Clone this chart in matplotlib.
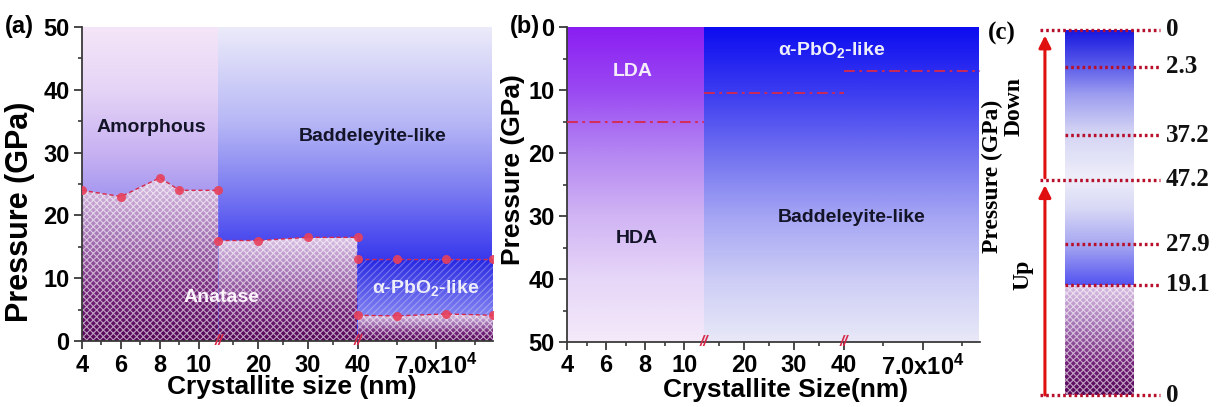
import numpy as np
import matplotlib
matplotlib.use("Agg")
import matplotlib.pyplot as plt
from matplotlib.colors import LinearSegmentedColormap
from matplotlib.patches import Polygon
from matplotlib.ticker import FixedLocator, FixedFormatter

plt.rcParams['font.family'] = ['Liberation Sans', 'DejaVu Sans']
plt.rcParams['font.weight'] = 'bold'
plt.rcParams['mathtext.fontset'] = 'custom'
plt.rcParams['mathtext.rm'] = 'Liberation Sans:bold'
plt.rcParams['mathtext.it'] = 'Liberation Sans:bold'
plt.rcParams['mathtext.bf'] = 'Liberation Sans:bold'
plt.rcParams['mathtext.default'] = 'rm'
plt.rcParams['hatch.linewidth'] = 0.8

# ---- data ----
# broken x axis: 4-11 nm | 12-40 nm | bulk (x10^4 nm)
seg_lims = [(4, 11), (12, 40), (5e4, 8.45e4)]
x_major = [4, 6, 8, 10, 20, 30, 40, 7e4]
x_major_lbl = ['4', '6', '8', '10', '20', '30', '40', '7.0x10$^4$']
x_minor = [5, 7, 9, 15, 25, 35, 6e4, 8e4]

# panel (a): transition points
a1_size = [4, 6, 8, 9, 11]
a1_p = [24, 23, 26, 24, 24]
a2_size = [12, 20, 30, 40]
a2_p = [16, 16, 16.5, 16.5]
a3_size = [5e4, 6e4, 7.25e4, 8.45e4]
a3_hi = [13, 13, 13, 13]
a3_lo = [4.1, 4.0, 4.3, 4.1]

# panel (b): decompression transitions per segment
b_p = [15, 10.5, 7]

# panel (c): pressure levels (labels) and their place on the schematic bar
c_labels = ['0', '2.3', '37.2', '47.2', '27.9', '19.1', '0']
c_pos = [1.0, 0.899, 0.712, 0.590, 0.413, 0.302, 0.0]
c_long = [True, False, False, True, False, False, True]

RED = '#d8284a'
DOT = '#e8405a'

# piecewise scale for the broken axis
X_BRK = [4, 11, 12, 40, 5e4, 8.45e4]
U_BRK = [0, 0.3318, 0.3320, 0.6705, 0.6707, 1.0]


def fwd(x):
    return np.interp(x, X_BRK, U_BRK)


def inv(u):
    return np.interp(u, U_BRK, X_BRK)


def vgrad(ax, x0, x1, y0, y1, stops, clip=None, z=0):
    g = np.linspace(0, 1, 256).reshape(-1, 1)
    cmap = LinearSegmentedColormap.from_list('g', stops)
    im = ax.imshow(g, extent=[x0, x1, y0, y1], origin='lower', aspect='auto',
                   cmap=cmap, vmin=0, vmax=1, interpolation='bilinear', zorder=z)
    if clip is not None:
        im.set_clip_path(clip)
    return im


def region(ax, xs, lo, hi, stops, hatch, hcolor):
    lo = np.broadcast_to(lo, len(xs))
    hi = np.broadcast_to(hi, len(xs))
    verts = list(zip(xs, hi)) + list(zip(xs[::-1], lo[::-1]))
    patch = Polygon(verts, closed=True, transform=ax.transData)
    vgrad(ax, xs[0], xs[-1], min(lo), max(hi), stops, clip=patch, z=1)
    ax.fill_between(xs, lo, hi, facecolor='none', edgecolor=hcolor,
                    linewidth=0, hatch=hatch, zorder=2)


def style_x(ax, ybreak):
    ax.set_xscale('function', functions=(fwd, inv))
    ax.set_xlim(4, 8.45e4)
    ax.xaxis.set_major_locator(FixedLocator(x_major))
    ax.xaxis.set_major_formatter(FixedFormatter(x_major_lbl))
    ax.xaxis.set_minor_locator(FixedLocator(x_minor))
    ax.xaxis.set_minor_formatter(FixedFormatter([''] * len(x_minor)))
    ax.yaxis.set_major_locator(FixedLocator([0, 10, 20, 30, 40, 50]))
    ax.yaxis.set_minor_locator(FixedLocator([5, 15, 25, 35, 45]))
    for s in ['top', 'right']:
        ax.spines[s].set_visible(False)
    for s in ['left', 'bottom']:
        ax.spines[s].set_color('#3a3a3a')
        ax.spines[s].set_linewidth(1.3)
    ax.tick_params(which='major', direction='out', length=6, width=1.3,
                   color='#3a3a3a', labelsize=17, pad=3)
    ax.tick_params(which='minor', direction='out', length=3, width=1.2,
                   color='#3a3a3a')
    for xb in [11.5, 40]:
        ax.text(xb, ybreak, '//', color=RED, fontsize=11, ha='center',
                va='center', style='italic', zorder=6, clip_on=False)


fig = plt.figure(figsize=(12.19, 4.07), dpi=100)
purple_lo = [(0, '#560658'), (0.3, '#74247a'), (0.65, '#a878b8'), (1, '#dcc4e6')]
CHK = 'xxxxx'
CHK_C = (1, 1, 1, 0.6)

# ================= panel (a) =================
ax = fig.add_axes([82 / 1219, 66 / 407, 411 / 1219, 314 / 407])
vgrad(ax, 4, 11.5, 0, 50, [(0, '#a898ee'), (0.48, '#a99bf0'), (0.6, '#c8b2f2'),
                            (0.8, '#e6d4f6'), (1, '#f4e6f8')])
vgrad(ax, 11.5, 8.45e4, 0, 50, [(0, '#3030e8'), (0.26, '#3a3aec'), (0.34, '#5050f0'),
                                 (0.5, '#8282f2'), (0.7, '#b8b8f6'), (1, '#ecebfa')])

for xs, ys in [(a1_size, a1_p), (a2_size, a2_p), (a3_size, a3_lo)]:
    xs = np.array(xs, dtype=float)
    ys = np.array(ys, dtype=float)
    region(ax, xs, 0.0, ys, purple_lo, CHK, CHK_C)
    ax.plot(xs, ys, color=RED, lw=1.0, ls=(0, (3, 2)), zorder=4)
    ax.plot(xs, ys, 'o', color=DOT, ms=6.5, mec='none', alpha=0.9, zorder=5)

region(ax, np.array(a3_size, dtype=float), np.array(a3_lo, dtype=float),
       np.array(a3_hi, dtype=float), [(0, '#8484f2'), (1, '#2626e2')],
       '/////', (1, 1, 1, 0.3))
ax.plot(a3_size, a3_hi, color=RED, lw=1.0, ls=(0, (3, 2)), zorder=4)
ax.plot(a3_size, a3_hi, 'o', color=DOT, ms=6.5, mec='none', alpha=0.9, zorder=5)

style_x(ax, 0)
ax.set_ylim(0, 50)
ax.set_xlabel('Crystallite size (nm)', fontsize=19, fontweight='bold')
ax.set_ylabel('Pressure (GPa)', fontsize=22, fontweight='bold')
ax.xaxis.set_label_coords(0.51, -0.108)
ax.yaxis.set_label_coords(-0.114, 0.41)
tr = ax.get_yaxis_transform()
ax.text(0.168, 34, 'Amorphous', transform=tr, fontsize=14, ha='center', va='center',
        color='#141428', zorder=6)
ax.text(0.708, 32.6, 'Baddeleyite-like', transform=tr, fontsize=14, ha='center',
        va='center', color='#141428', zorder=6)
ax.text(0.34, 7, 'Anatase', transform=tr, fontsize=14, ha='center', va='center',
        color='#fbf4fb', zorder=6)
ax.text(0.835, 8.4, r'$\alpha$-PbO$_2$-like', transform=tr, fontsize=14, ha='center',
        va='center', color='#eeeefa', zorder=6)
fig.text(0.004, 1 - 26 / 407, '(a)', fontsize=17, fontweight='bold', va='center')

# ================= panel (b) =================
bx = fig.add_axes([567 / 1219, 65 / 407, 413 / 1219, 315 / 407])
vgrad(bx, 4, 11.5, 0, 50, [(0, '#8a1ef2'), (0.2, '#9a48f2'), (0.4, '#b486f2'),
                            (0.6, '#d0b4f4'), (0.8, '#e6d6f8'), (1, '#f4eafa')])
vgrad(bx, 11.5, 8.45e4, 0, 50, [(0, '#0c0cf0'), (0.2, '#3a3af0'), (0.4, '#7070f0'),
                                 (0.6, '#a4a4f4'), (0.8, '#ccccf6'), (1, '#e8e8f8')])
for (x0, x1), p in zip(seg_lims, b_p):
    bx.plot([x0, x1], [p, p], color=RED, lw=1.3, ls=(0, (6, 2.5, 1.5, 2.5)), zorder=4)

style_x(bx, 50)
bx.set_ylim(50, 0)
bx.set_xlabel('Crystallite Size(nm)', fontsize=19, fontweight='bold')
bx.set_ylabel('Pressure (GPa)', fontsize=19, fontweight='bold')
bx.xaxis.set_label_coords(0.528, -0.114)
bx.yaxis.set_label_coords(-0.102, 0.546)
tr = bx.get_yaxis_transform()
bx.text(0.16, 7.1, 'LDA', transform=tr, fontsize=14, ha='center', va='center',
        color='#f4ecfa', zorder=6)
bx.text(0.17, 33.5, 'HDA', transform=tr, fontsize=14, ha='center', va='center',
        color='#141428', zorder=6)
bx.text(0.64, 3.6, r'$\alpha$-PbO$_2$-like', transform=tr, fontsize=14, ha='center',
        va='center', color='#eeeefa', zorder=6)
bx.text(0.69, 30.2, 'Baddeleyite-like', transform=tr, fontsize=14, ha='center',
        va='center', color='#141428', zorder=6)
fig.text(510 / 1219, 1 - 26 / 407, '(b)', fontsize=17, fontweight='bold', va='center')

# ================= panel (c) =================
cx = fig.add_axes([1030 / 1219, 12 / 407, 189 / 1219, 365 / 407])
cx.set_xlim(0, 1)
cx.set_ylim(0, 1)
cx.axis('off')
bar_l, bar_r = 0.185, 0.55
split = c_pos[5]
vgrad(cx, bar_l, bar_r, split, 1.0,
      [(0, '#5454f0'), (0.16, '#a8a8f2'), (0.3, '#d8d8f6'), (0.42, '#eeeefa'),
       (0.6, '#d4d4f4'), (0.75, '#9c9cf0'), (0.86, '#5c5cea'), (1, '#1818e0')])
region(cx, np.array([bar_l, bar_r]), 0.0, split, purple_lo, CHK, CHK_C)

serif = ['Liberation Serif', 'DejaVu Serif']
for lbl, p, lg in zip(c_labels, c_pos, c_long):
    x0 = 0.053 if lg else bar_l
    cx.plot([x0, 0.69], [p, p], color='#b8102c', lw=2.4, ls=(0, (0.8, 0.9)),
            zorder=4, clip_on=False, solid_capstyle='butt')
    cx.text(0.72, p, lbl, family=serif, fontsize=18, fontweight='bold',
            ha='left', va='center', color='#101010')

arw = dict(arrowstyle='-|>', color='#e01010', lw=2.2, mutation_scale=18,
           shrinkA=0, shrinkB=0)
cx.annotate('', xy=(0.079, 0.985), xytext=(0.079, 0.595), arrowprops=arw,
            annotation_clip=False)
cx.annotate('', xy=(0.079, 0.575), xytext=(0.079, 0.0), arrowprops=arw,
            annotation_clip=False)
cx.text(-0.2, 0.60, 'Pressure (GPa)', family=serif, fontsize=17, fontweight='bold',
        rotation=90, ha='center', va='center', clip_on=False)
cx.text(-0.085, 0.79, 'Down', family=serif, fontsize=17, fontweight='bold',
        rotation=90, ha='center', va='center', clip_on=False)
cx.text(-0.037, 0.33, 'Up', family=serif, fontsize=17, fontweight='bold',
        rotation=90, ha='center', va='center', clip_on=False)
cx.text(-0.148, 0.99, '(c)', family=serif, fontsize=18, fontweight='bold',
        ha='center', va='center', clip_on=False)

fig.savefig('out.png', dpi=100)
